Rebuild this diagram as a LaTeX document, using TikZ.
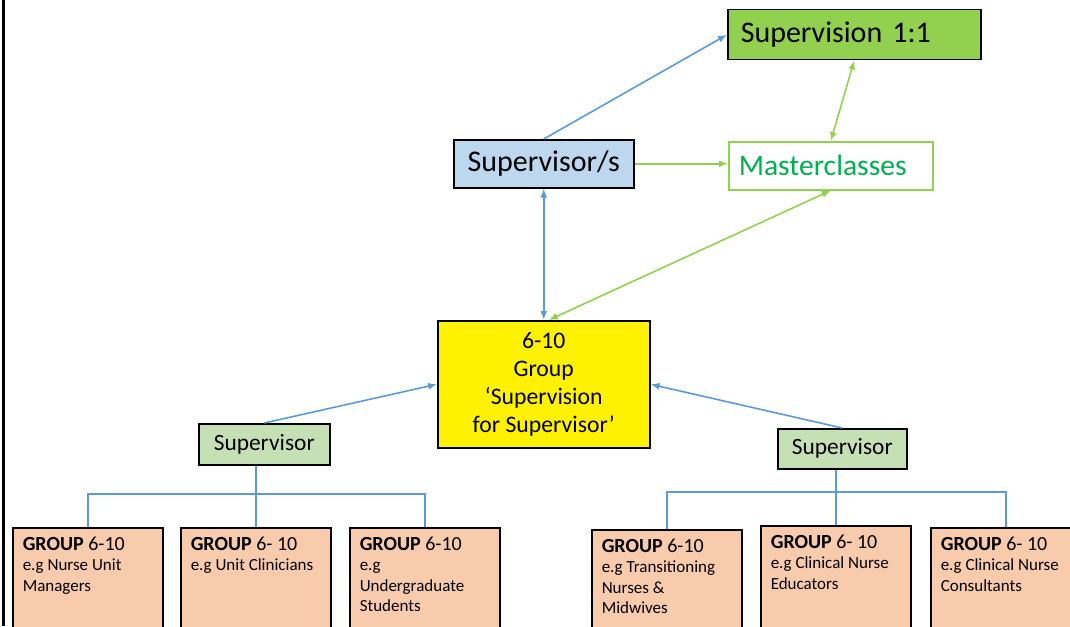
\documentclass[tikz,border=0pt]{standalone}
\usepackage{fontspec}
\setmainfont{Carlito}
\usetikzlibrary{shapes,arrows.meta,calc}
\definecolor{linkblue}{RGB}{91,155,213}
\definecolor{linkgreen}{RGB}{146,208,80}
\definecolor{textgreen}{RGB}{0,176,80}
\definecolor{fillblue}{RGB}{189,215,238}
\definecolor{fillsup}{RGB}{197,224,180}
\definecolor{fillgroup}{RGB}{248,203,173}
\tikzset{>={Latex[length=9pt,width=7pt]}}
\tikzstyle{line} = [draw, linkblue, line width=1.6pt, ->]
\tikzstyle{gline} = [draw, linkgreen, line width=1.6pt, ->]
\tikzstyle{tree} = [draw, linkblue, line width=1.6pt]
\tikzstyle{block} = [draw, rectangle, line width=1.5pt, anchor=north west, text centered]
\tikzstyle{supblock} = [block, fill=fillsup, font=\fontsize{23.4}{26}\selectfont]
\tikzstyle{groupblock} = [block, fill=fillgroup, inner xsep=10pt, inner ysep=9pt]
\newcommand{\grouptext}[2]{\parbox[c][100pt][t]{130pt}{\raggedright\fontsize{20}{21}\selectfont\textbf{GROUP} #1\\
  \fontsize{17}{20.5}\selectfont #2}}

\begin{document}
\begin{tikzpicture}[x=1pt, y=-1pt]
        \useasboundingbox (0,0) rectangle (1070,626);
        \draw[line width=3pt] (3,0) -- (3,626);
        % top row
        \node[block, fill=linkgreen, minimum width=253pt, minimum height=50pt, text width=227pt, inner xsep=13pt, align=left, font=\fontsize{30}{32}\selectfont] (one) at (727,9) {Supervision 1:1};
        \node[block, fill=fillblue, minimum width=180pt, minimum height=48pt, font=\fontsize{30}{32}\selectfont] (sups) at (453,139) {Supervisor/s};
        \node[block, draw=linkgreen, text=textgreen, minimum width=204pt, minimum height=48pt, text width=184pt, inner xsep=10pt, align=left, font=\fontsize{29.6}{32}\selectfont] (master) at (728,141) {Masterclasses};
        % middle
        \node[block, fill=yellow, minimum width=212pt, minimum height=127pt, align=center, font=\fontsize{23.7}{28}\selectfont] (grp) at (437,320) {6-10\\Group\\‘Supervision\\for Supervisor’};
        \node[supblock, minimum width=131pt, minimum height=41pt] (supl) at (198,423) {Supervisor};
        \node[supblock, minimum width=129pt, minimum height=40pt] (supr) at (777,428) {Supervisor};
        % groups
        \node[groupblock] (g1) at (12,527) {\grouptext{6-10}{e.g Nurse Unit\\Managers}};
        \node[groupblock] (g2) at (180,527) {\grouptext{6- 10}{e.g Unit Clinicians}};
        \node[groupblock] (g3) at (349,527) {\grouptext{6-10}{e.g\\Undergraduate\\Students}};
        \node[groupblock] (g4) at (591,529) {\grouptext{6-10}{e.g Transitioning\\Nurses \&\\Midwives}};
        \node[groupblock] (g5) at (760,525) {\grouptext{6- 10}{e.g Clinical Nurse\\Educators}};
        \node[groupblock] (g6) at (930,527) {\grouptext{6- 10}{e.g Clinical Nurse\\Consultants}};
        % links
        \path[line] (sups.north) -- (one.west);
        \path[gline] (sups.east) -- (sups.east -| master.west);
        \path[gline, <->] (master.north) -- (one.south);
        \path[line, <->] (sups.south) -- (grp.north);
        \path[gline, <->] ([xshift=5pt]grp.north) -- (master.south);
        \path[line] (supl.north) -- (grp.west);
        \path[line] (supr.north) -- (grp.east);
        % trees
        \path[tree] (g1.north) -- ++(0,-33) -| (g3.north);
        \path[tree] (g2.north) -- (g2.north |- supl.south);
        \path[tree] (g4.north) -- ++(0,-37) -| (g6.north);
        \path[tree] (g5.north) -- (g5.north |- supr.south);
\end{tikzpicture}
\end{document}
